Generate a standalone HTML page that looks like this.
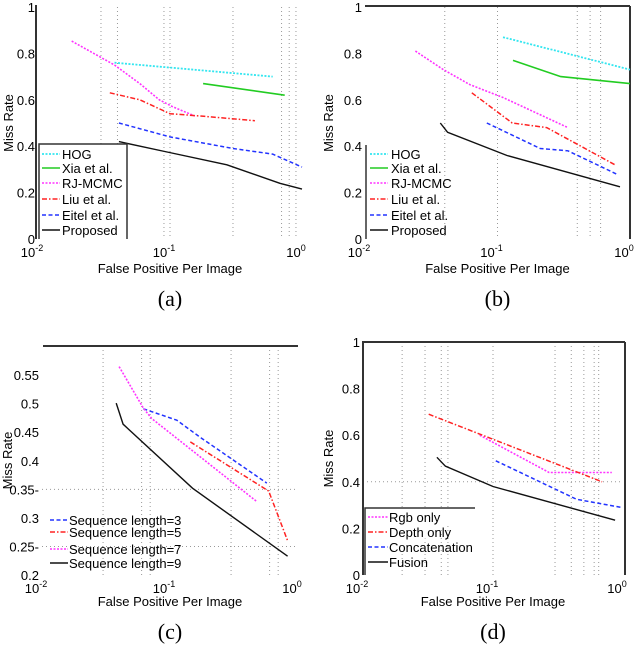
<!DOCTYPE html>
<html><head><meta charset="utf-8">
<style>
body{margin:0;background:#fff;}
svg{display:block;font-family:"Liberation Sans",sans-serif;}
.tk{font-size:13px;fill:#000;}
.cap{font-family:"Liberation Serif",serif;font-size:22px;fill:#000;}
.grid{stroke:#999;stroke-width:1;stroke-dasharray:1,3;}
</style></head>
<body>
<svg id="fig" width="640" height="646" viewBox="0 0 640 646" xmlns="http://www.w3.org/2000/svg"></svg>
<script>
// ---- Panel (a) data ----
const aNames=["HOG","Xia et al.","RJ-MCMC","Liu et al.","Eitel et al.","Proposed"];
const aHogX=[0.038,0.6], aHogY=[0.76,0.70];
const aXiaX=[0.178,0.74], aXiaY=[0.67,0.62];
const aRjX=[0.018,0.038,0.059,0.083,0.105,0.154], aRjY=[0.853,0.75,0.67,0.60,0.57,0.53];
const aLiuX=[0.035,0.059,0.1,0.17,0.44], aLiuY=[0.63,0.60,0.54,0.53,0.51];
const aEitX=[0.041,0.1,0.3,0.6,1.0], aEitY=[0.50,0.44,0.39,0.366,0.31];
const aProX=[0.041,0.095,0.27,0.68,1.0], aProY=[0.42,0.375,0.32,0.24,0.215];
// ---- Panel (b) data ----
const bHogX=[0.11,1.0], bHogY=[0.87,0.73];
const bXiaX=[0.131,0.30,1.0], bXiaY=[0.77,0.70,0.67];
const bRjX=[0.024,0.039,0.062,0.11,0.34], bRjY=[0.81,0.73,0.665,0.61,0.48];
const bLiuX=[0.064,0.129,0.235,0.77], bLiuY=[0.63,0.50,0.48,0.32];
const bEitX=[0.083,0.21,0.34,0.79], bEitY=[0.50,0.39,0.38,0.28];
const bProX=[0.037,0.042,0.118,0.84], bProY=[0.50,0.46,0.36,0.225];
// ---- Panel (c) data ----
const cNames=["Sequence length=3","Sequence length=5","Sequence length=7","Sequence length=9"];
const c3X=[0.062,0.113,0.17,0.57], c3Y=[0.491,0.471,0.442,0.361];
const c5X=[0.144,0.59,0.83], c5Y=[0.433,0.347,0.26];
const c7X=[0.040,0.062,0.072,0.48], c7Y=[0.565,0.492,0.474,0.328];
const c9X=[0.038,0.043,0.15,0.83], c9Y=[0.501,0.464,0.352,0.233];
// ---- Panel (d) data ----
const dNames=["Rgb only","Depth only","Concatenation","Fusion"];
const dRgbX=[0.079,0.27,0.82], dRgbY=[0.60,0.44,0.44];
const dDepX=[0.032,0.69], dDepY=[0.69,0.40];
const dConX=[0.105,0.44,0.97], dConY=[0.49,0.325,0.29];
const dFusX=[0.037,0.043,0.1,0.87], dFusY=[0.505,0.467,0.38,0.235];
// tick labels
const yTicksAB=[0,0.2,0.4,0.6,0.8,1];
const yTickLabelsAB=["0","0.2","0.4","0.6","0.8","1"];
const yTicksC=[0.2,0.25,0.3,0.35,0.4,0.45,0.5,0.55];
const yTickLabelsC=["0.2","0.25-","0.3","0.35-","0.4","0.45","0.5","0.55"];
const xTickExps=["-2","-1","0"];

const NS="http://www.w3.org/2000/svg";
const svg=document.getElementById('fig');
function el(tag,attrs,parent,text){const e=document.createElementNS(NS,tag);for(const k in attrs)e.setAttribute(k,attrs[k]);if(text!==undefined)e.textContent=text;(parent||svg).appendChild(e);return e;}

const STY={
 cyan:{stroke:"#33e6f0",dash:"2,1.5",w:1.8},
 green:{stroke:"#22cc22",dash:"",w:1.6},
 mag:{stroke:"#ff33ff",dash:"2,1.5",w:1.6},
 red:{stroke:"#ff2222",dash:"5,2,1.5,2",w:1.5},
 blue:{stroke:"#2233ff",dash:"4,2.5",w:1.5},
 black:{stroke:"#111",dash:"",w:1.4}
};

function panel(cfg){
 const g=el('g',{});
 
 
 const sx=v=>cfg.x0+(Math.log10(v)+2)*(cfg.x1-cfg.x0)/2;
 const sy=v=>cfg.yb-(v-cfg.ymin)/(cfg.ymax-cfg.ymin)*(cfg.yb-cfg.yt);
 // grid
 cfg.vgrid.forEach(v=>{const l=el('line',{x1:sx(v),x2:sx(v),y1:cfg.yt,y2:cfg.yb,class:'grid'},g);});
 cfg.hgrid.forEach(v=>{const l=el('line',{x1:cfg.x0,x2:cfg.x1,y1:sy(v),y2:sy(v),class:'grid'},g);});
 // frame lines
 cfg.frame.forEach(f=>{const l=el('line',{x1:f[0],y1:f[1],x2:f[2],y2:f[3],stroke:'#333','stroke-width':2},g);});
 // y ticks
 cfg.yt_v.forEach((v,i)=>{const t=el('text',{x:cfg.x0-3,y:sy(v)+5,class:'tk','text-anchor':'end'},g,cfg.yt_l[i]);});
 // x ticks
 xTickExps.forEach((e,i)=>{const x=cfg.x0+i*(cfg.x1-cfg.x0)/2;const t=el('text',{x:x-6,y:cfg.xty,class:'tk','text-anchor':'middle'},g);
  el('tspan',{},t,'10');el('tspan',{dy:-6,'font-size':'9px'},t,e);});
 const xl=el('text',{x:(cfg.x0+cfg.x1)/2,y:cfg.xly,class:'tk','text-anchor':'middle'},g,'False Positive Per Image');
 
 const ylx=cfg.ylx, yly=(cfg.yt+cfg.yb)/2;
 const yl=el('text',{x:ylx,y:yly,class:'tk','text-anchor':'middle',transform:`rotate(-90 ${ylx} ${yly})`},g,'Miss Rate');
 
 const cp=el('text',{x:(cfg.x0+cfg.x1)/2,y:cfg.capy,class:'cap','text-anchor':'middle'},g,cfg.cap);
 
 // series
 cfg.series.forEach((s,i)=>{const st=STY[s.sty];
  const pts=s.x.map((v,j)=>sx(v).toFixed(1)+','+sy(s.y[j]).toFixed(1)).join(' ');
  const p=el('polyline',{points:pts,fill:'none',stroke:st.stroke,'stroke-width':st.w,'stroke-dasharray':st.dash},g);
  });
 // legend
 const L=cfg.leg;
 if(L.box){const r=el('path',{d:L.box,fill:'#fff',stroke:'#333','stroke-width':1.5},g);}
 cfg.series.forEach((s,i)=>{const st=STY[s.sty];const y=L.ys[i];
  const lg=el('g',{},g);
  el('line',{x1:L.sx1,x2:L.sx2,y1:y,y2:y,stroke:st.stroke,'stroke-width':st.w,'stroke-dasharray':st.dash},lg);
  el('text',{x:L.tx,y:y+5,class:'tk','font-size':L.fs||'13px'},lg,cfg.names[i]);});
}

const abV=[0.03,0.04,0.09,0.1,0.3,0.7,0.8,0.9];
panel({name:'panel-a',x0:38,x1:302,yt:7,yb:239,ymin:0,ymax:1,vgrid:abV,hgrid:[],
 frame:[[36,5,36,239]],yt_v:yTicksAB,yt_l:yTickLabelsAB,xty:257,xly:273,ylx:13,capy:306,cap:'(a)',
 names:aNames,series:[{x:aHogX,y:aHogY,sty:'cyan'},{x:aXiaX,y:aXiaY,sty:'green'},{x:aRjX,y:aRjY,sty:'mag'},{x:aLiuX,y:aLiuY,sty:'red'},{x:aEitX,y:aEitY,sty:'blue'},{x:aProX,y:aProY,sty:'black'}],
 leg:{box:'M39,239 L39,144 L127,144 L127,239',ys:[154,168,183,199,215,230],sx1:42,sx2:60,tx:62}});
panel({name:'panel-b',x0:365,x1:630,yt:7,yb:239,ymin:0,ymax:1,vgrid:[0.04,0.1,0.4,0.5,0.6],hgrid:[],
 frame:[[365,6,630,6],[630,6,630,239]],yt_v:yTicksAB,yt_l:yTickLabelsAB,xty:257,xly:273,ylx:333,capy:306,cap:'(b)',
 names:aNames,series:[{x:bHogX,y:bHogY,sty:'cyan'},{x:bXiaX,y:bXiaY,sty:'green'},{x:bRjX,y:bRjY,sty:'mag'},{x:bLiuX,y:bLiuY,sty:'red'},{x:bEitX,y:bEitY,sty:'blue'},{x:bProX,y:bProY,sty:'black'}],
 leg:{box:'M366,145 L366,239',ys:[154,168,183,199,215,230],sx1:370,sx2:388,tx:391}});
panel({name:'panel-c',x0:42,x1:298,yt:346,yb:575,ymin:0.2,ymax:0.601,vgrid:[0.03,0.06,0.07,0.3,0.6,0.7],hgrid:[0.25,0.35],
 frame:[[43,346,298,346]],yt_v:yTicksC,yt_l:yTickLabelsC,xty:593,xly:606,ylx:12,capy:639,cap:'(c)',
 names:cNames,series:[{x:c3X,y:c3Y,sty:'blue'},{x:c5X,y:c5Y,sty:'red'},{x:c7X,y:c7Y,sty:'mag'},{x:c9X,y:c9Y,sty:'black'}],
 leg:{box:null,ys:[520,532,549,563],sx1:50,sx2:68,tx:69}});
panel({name:'panel-d',x0:363,x1:623,yt:342,yb:575,ymin:0,ymax:1,vgrid:[0.02,0.03,0.04,0.045,0.1,0.3,0.4,0.5,0.6,0.65],hgrid:[0.4],
 frame:[[363,341,363,575],[363,342,625,342],[625,342,625,575]],yt_v:yTicksAB,yt_l:yTickLabelsAB,xty:593,xly:606,ylx:333,capy:639,cap:'(d)',
 names:dNames,series:[{x:dRgbX,y:dRgbY,sty:'mag'},{x:dDepX,y:dDepY,sty:'red'},{x:dConX,y:dConY,sty:'blue'},{x:dFusX,y:dFusY,sty:'black'}],
 leg:{box:'M365,575 L365,508 L475,508',ys:[517,532,547,562],sx1:368,sx2:388,tx:389}});
</script>
</body></html>
